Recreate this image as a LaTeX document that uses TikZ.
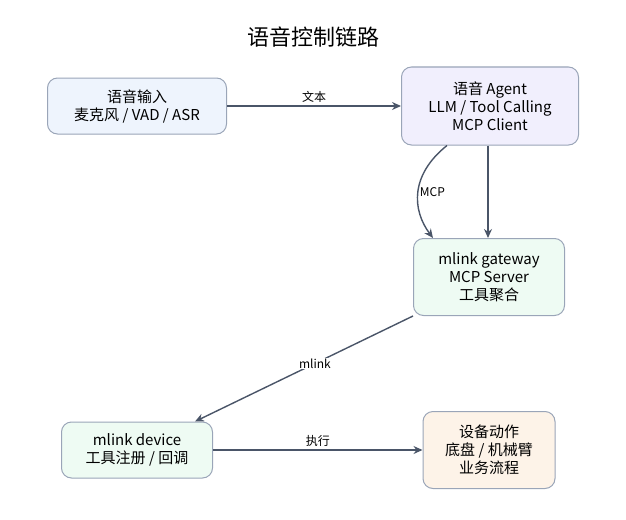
\documentclass[tikz,border=0pt]{standalone}
\usepackage{fontspec}
\setmainfont{Noto Sans CJK SC}
\usetikzlibrary{arrows.meta}
\definecolor{edgec}{HTML}{4A5568}
\definecolor{borderc}{HTML}{9AA5B8}
\definecolor{inputc}{HTML}{EEF4FD}
\definecolor{agentc}{HTML}{F1EFFD}
\definecolor{mlinkc}{HTML}{EEFBF3}
\definecolor{actc}{HTML}{FDF3E8}
\tikzset{
  box/.style={draw=borderc, line width=1pt, rounded corners=10pt, align=center,
    font=\fontsize{15}{18}\selectfont, inner sep=0pt},
  link/.style={draw=edgec, line width=1.4pt, -{Stealth[length=9pt,width=8pt]}},
  lbl/.style={font=\fontsize{12}{14}\selectfont, fill=white, inner sep=1pt}
}
\begin{document}
\begin{tikzpicture}[x=1pt,y=-1pt]
\useasboundingbox (0,0) rectangle (626,519);
\node[font=\fontsize{22}{26}\selectfont] (title) at (313,37) {语音控制链路};
\node[box, fill=inputc, minimum width=179pt, minimum height=56pt] (input) at (137,106) {语音输入\\麦克风 / VAD / ASR};
\node[box, fill=agentc, minimum width=177pt, minimum height=78pt] (agent) at (490,106) {语音 Agent\\LLM / Tool Calling\\MCP Client};
\node[box, fill=mlinkc, minimum width=151pt, minimum height=77pt] (gateway) at (489,277) {mlink gateway\\MCP Server\\工具聚合};
\node[box, fill=mlinkc, minimum width=151pt, minimum height=56pt] (device) at (137,450) {mlink device\\工具注册 / 回调};
\node[box, fill=actc, minimum width=132pt, minimum height=77pt] (action) at (489,450) {设备动作\\底盘 / 机械臂\\业务流程};
% connectors
\draw[link] (input) -- node[lbl, above=2pt, fill=none] {文本} (agent);
\draw[link] (agent.south) ++(-2,0) coordinate (a1) -- (a1 |- gateway.north);
\draw[link] ([xshift=-43pt]agent.south) .. controls (410,175) and (412,210) .. node[lbl, pos=0.5, right=0pt, fill=none] {MCP} ([xshift=-56pt]gateway.north);
\draw[link] ([xshift=-76pt]gateway.south) -- node[lbl, pos=0.45] {mlink} ([xshift=58pt]device.north);
\draw[link] (device) -- node[lbl, above=2pt, fill=none] {执行} (action);
\end{tikzpicture}
\end{document}
